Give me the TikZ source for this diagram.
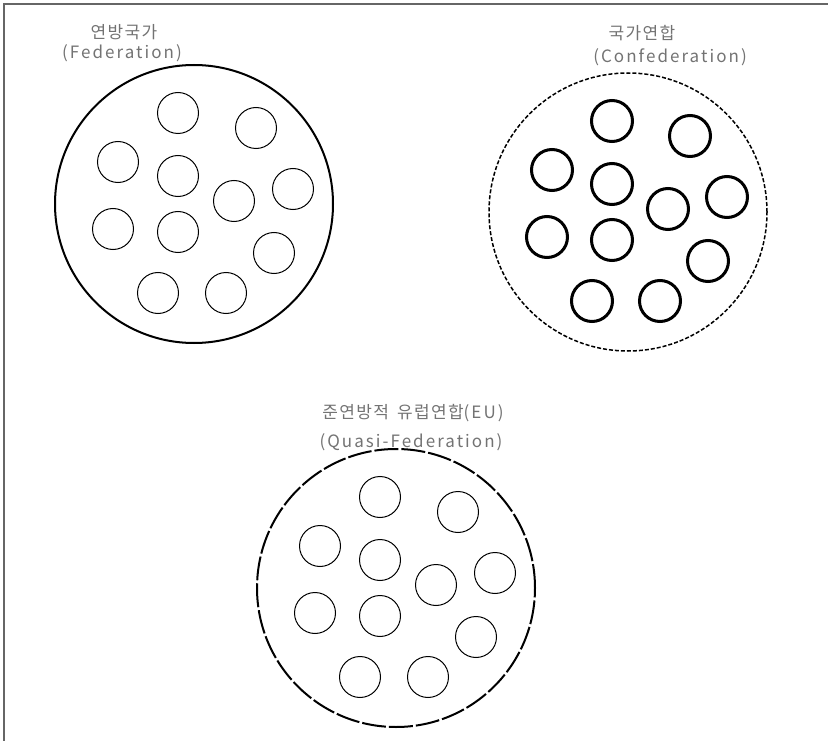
\documentclass[tikz,border=0pt]{standalone}
\usepackage{fontspec}
\newfontfamily\latn[LetterSpace=12]{Noto Sans CJK KR}
\newfontfamily\hangul[LetterSpace=8]{Noto Sans CJK KR}
\begin{document}
\begin{tikzpicture}[x=1pt,y=-1pt,
    unit/.style={circle,draw,minimum size=41pt,inner sep=0pt},
    bloc/.style={circle,draw,line width=2pt,minimum size=278pt,inner sep=0pt},
    lbl/.style={text=black!55,font=\latn\fontsize{17}{19}\selectfont,inner sep=0pt}]
  \useasboundingbox (0,0) rectangle (828,741);
  \def\unitpos{-16/-91,62/-76,-76/-42,-16/-28,40/-3,99/-15,-81/25,-16/28,80/49,-36/89,32/89}
  \draw[black!60,line width=1.2pt] (4,741) -- (4,4) -- (828,4);
  % 연방국가
  \node[bloc] (fed) at (194,204) {};
  \foreach \dx/\dy [count=\i] in \unitpos
    \node[unit,line width=1pt] (fed\i) at ([shift={(\dx,\dy)}]fed.center) {};
  \node[lbl] (fedkr) at (124,32) {\hangul 연방국가};
  \node[lbl] (feden) at (122,53) {(Federation)};
  % 국가연합
  \node[bloc,line width=1.5pt,dash pattern=on 4pt off 2pt] (conf) at (628,212) {};
  \foreach \dx/\dy [count=\i] in \unitpos
    \node[unit,line width=3pt] (conf\i) at ([shift={(\dx,\dy)}]conf.center) {};
  \node[lbl] (confkr) at (642,33) {\hangul 국가연합};
  \node[lbl] (confen) at (670,57) {(Confederation)};
  % 준연방적 유럽연합
  \node[bloc,dash pattern=on 24pt off 3pt] (quasi) at (396,588) {};
  \foreach \dx/\dy [count=\i] in \unitpos
    \node[unit,line width=1pt] (quasi\i) at ([shift={(\dx,\dy)}]quasi.center) {};
  \node[lbl] (quasikr) at (413,413) {{\hangul 준연방적}\hspace{8pt}{\hangul 유럽연합}(EU)};
  \node[lbl] (quasien) at (411,442) {(Quasi-Federation)};
\end{tikzpicture}
\end{document}
